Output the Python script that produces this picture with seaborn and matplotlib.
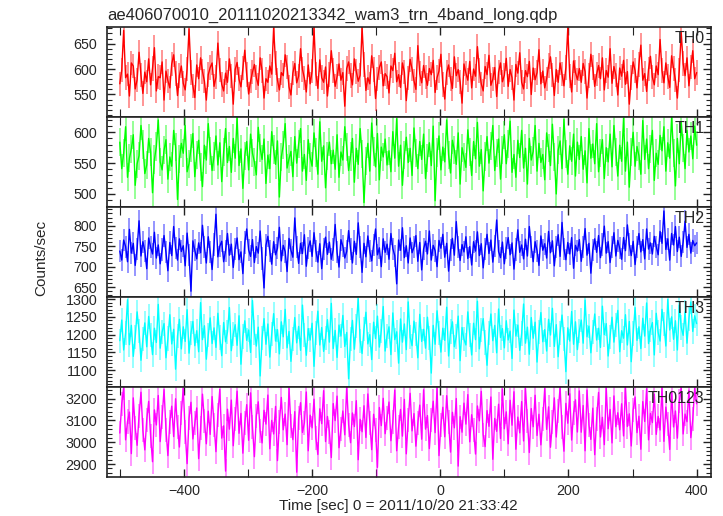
import matplotlib
matplotlib.use('Agg')
import numpy as np
import pandas as pd
import seaborn as sns
import matplotlib.pyplot as plt
from matplotlib.ticker import MultipleLocator

# light curve, 3 s bins, time relative to 2011/10/20 21:33:42
time_sec = np.arange(-500, 401, 3)

th0 = [571, 598, 676, 583, 590, 547, 612, 606, 561, 579, 633, 588, 552, 594, 575, 620, 569, 601, 642, 557,
       585, 583, 614, 539, 596, 577, 563, 610, 628, 591, 548, 587, 606, 572, 559, 600, 679, 593, 567, 544,
       608, 581, 622, 595, 576, 539, 589, 603, 612, 566, 584, 651, 598, 570, 557, 592, 574, 620, 586, 531,
       599, 613, 580, 565, 602, 637, 589, 551, 576, 594, 609, 583, 568, 622, 597, 543, 581, 574, 606, 590,
       681, 612, 578, 559, 593, 587, 628, 604, 565, 549, 592, 611, 573, 586, 640, 599, 582, 555, 608, 571,
       596, 682, 590, 562, 618, 583, 574, 604, 547, 589, 636, 597, 566, 585, 610, 578, 593, 527, 601, 614,
       587, 569, 620, 595, 576, 588, 682, 609, 558, 583, 571, 626, 599, 542, 580, 603, 614, 567, 591, 585,
       553, 606, 597, 631, 575, 589, 564, 612, 594, 538, 582, 619, 600, 577, 560, 646, 591, 573, 607, 584,
       568, 601, 589, 617, 554, 583, 596, 629, 570, 541, 593, 608, 581, 562, 624, 587, 599, 575, 533, 610,
       592, 578, 615, 563, 600, 586, 644, 597, 571, 557, 605, 589, 627, 568, 580, 603, 546, 594, 612, 575,
       588, 621, 566, 599, 583, 539, 609, 592, 632, 574, 561, 597, 585, 615, 550, 602, 579, 593, 638, 571,
       596, 563, 581, 607, 624, 588, 548, 599, 574, 612, 590, 567, 603, 681, 586, 555, 616, 593, 579, 601,
       574, 611, 595, 543, 587, 629, 603, 566, 590, 607, 581, 622, 559, 597, 584, 640, 572, 605, 588, 549,
       602, 586, 617, 570, 595, 531, 583, 614, 597, 563, 609, 647, 578, 591, 556, 600, 625, 584, 569, 606,
       589, 658, 597, 573, 612, 585, 564, 626, 601, 578, 543, 598, 672, 611, 587, 622, 567, 604, 636, 581,
       593]

th1 = [584, 541, 566, 609, 527, 558, 573, 596, 514, 549, 562, 611, 580, 533, 547, 590, 568, 502, 556, 577,
       620, 552, 539, 571, 588, 524, 560, 545, 603, 576, 491, 557, 582, 566, 611, 536, 549, 574, 598, 528,
       563, 587, 544, 512, 579, 555, 614, 570, 538, 561, 594, 547, 583, 520, 568, 606, 551, 577, 535, 590,
       558, 624, 546, 573, 509, 562, 585, 539, 597, 566, 552, 531, 608, 574, 556, 589, 517, 563, 541, 601,
       572, 548, 586, 495, 560, 579, 614, 542, 557, 569, 528, 593, 550, 581, 606, 537, 564, 522, 588, 559,
       545, 599, 567, 532, 617, 553, 578, 510, 562, 584, 549, 571, 540, 596, 527, 568, 555, 609, 576, 538,
       561, 590, 519, 574, 548, 606, 565, 486, 553, 582, 537, 615, 569, 544, 598, 523, 576, 560, 589, 547,
       570, 536, 601, 558, 622, 545, 579, 514, 563, 592, 551, 574, 530, 607, 566, 541, 585, 556, 597, 525,
       558, 583, 546, 610, 489, 567, 594, 539, 576, 552, 620, 563, 534, 587, 571, 548, 599, 516, 575, 560,
       543, 604, 568, 530, 585, 557, 616, 545, 572, 505, 561, 593, 550, 578, 611, 538, 566, 589, 524, 571,
       596, 549, 581, 618, 535, 564, 527, 587, 559, 603, 542, 574, 516, 590, 555, 569, 611, 537, 582, 551,
       564, 523, 599, 575, 546, 613, 560, 500, 571, 586, 541, 621, 565, 532, 578, 553, 597, 529, 584, 556,
       593, 540, 570, 518, 606, 558, 581, 549, 614, 536, 566, 588, 525, 575, 552, 597, 544, 611, 568, 529,
       579, 553, 623, 537, 584, 511, 568, 600, 545, 577, 562, 532, 619, 556, 589, 541, 573, 603, 522, 566,
       548, 595, 570, 609, 537, 583, 558, 625, 566, 513, 590, 549, 617, 575, 541, 603, 568, 594, 557, 610,
       579]

th2 = [738, 716, 765, 749, 712, 791, 733, 757, 703, 744, 812, 726, 761, 739, 695, 770, 748, 731, 784, 721,
       753, 707, 742, 776, 735, 690, 759, 727, 798, 745, 716, 768, 737, 751, 702, 782, 729, 640, 763, 740,
       719, 758, 734, 801, 747, 709, 773, 736, 693, 754, 828, 724, 750, 762, 712, 739, 781, 728, 755, 698,
       744, 770, 717, 736, 683, 759, 792, 741, 725, 766, 710, 749, 733, 787, 720, 648, 752, 774, 738, 706,
       761, 729, 745, 796, 714, 752, 737, 688, 769, 740, 723, 819, 747, 708, 757, 732, 778, 701, 746, 763,
       725, 783, 739, 711, 756, 695, 744, 772, 730, 760, 718, 742, 803, 735, 699, 766, 750, 721, 737, 788,
       743, 709, 762, 730, 807, 748, 686, 757, 724, 775, 738, 714, 753, 792, 729, 746, 700, 768, 735, 755,
       718, 781, 744, 727, 658, 765, 740, 795, 722, 751, 709, 770, 734, 748, 776, 713, 759, 692, 743, 762,
       731, 787, 716, 752, 739, 700, 764, 745, 779, 723, 757, 689, 741, 769, 728, 810, 747, 715, 754, 736,
       773, 720, 749, 704, 761, 738, 785, 727, 756, 697, 744, 779, 732, 765, 711, 750, 814, 737, 722, 760,
       707, 746, 771, 729, 758, 694, 742, 790, 735, 753, 719, 767, 726, 798, 748, 712, 761, 739, 703, 775,
       740, 756, 721, 786, 734, 763, 702, 749, 778, 725, 808, 744, 717, 759, 731, 771, 696, 752, 738, 766,
       713, 749, 793, 728, 757, 684, 741, 768, 735, 776, 722, 754, 799, 733, 761, 710, 747, 783, 726, 764,
       745, 718, 771, 739, 802, 754, 727, 762, 705, 748, 781, 736, 766, 719, 792, 743, 758, 731, 774, 749,
       729, 786, 757, 836, 742, 768, 716, 781, 753, 798, 737, 772, 725, 760, 811, 747, 779, 733, 764, 751,
       758]

th3 = [1183, 1241, 1157, 1205, 1298, 1172, 1226, 1139, 1193, 1264, 1210, 1128, 1187, 1233, 1166, 1251, 1199, 1144, 1218, 1178,
       1285, 1162, 1207, 1231, 1135, 1189, 1256, 1174, 1215, 1103, 1196, 1243, 1160, 1222, 1181, 1270, 1148, 1204, 1237, 1169,
       1211, 1152, 1290, 1186, 1225, 1131, 1198, 1247, 1175, 1219, 1164, 1260, 1192, 1141, 1234, 1180, 1208, 1276, 1155, 1201,
       1228, 1170, 1253, 1117, 1195, 1239, 1184, 1213, 1150, 1296, 1206, 1168, 1221, 1084, 1190, 1245, 1173, 1230, 1137, 1202,
       1259, 1182, 1214, 1146, 1236, 1194, 1271, 1163, 1209, 1125, 1187, 1248, 1177, 1223, 1156, 1283, 1198, 1142, 1217, 1185,
       1232, 1111, 1204, 1266, 1171, 1220, 1153, 1191, 1242, 1179, 1288, 1161, 1212, 1136, 1227, 1196, 1254, 1167, 1206, 1076,
       1188, 1240, 1159, 1225, 1301, 1183, 1147, 1216, 1263, 1174, 1200, 1130, 1235, 1189, 1252, 1165, 1211, 1279, 1154, 1197,
       1222, 1144, 1261, 1186, 1208, 1120, 1244, 1179, 1230, 1158, 1292, 1193, 1169, 1238, 1201, 1135, 1257, 1181, 1215, 1162,
       1249, 1190, 1092, 1226, 1173, 1267, 1205, 1151, 1218, 1184, 1277, 1140, 1209, 1236, 1166, 1195, 1252, 1127, 1220, 1187,
       1171, 1264, 1199, 1143, 1232, 1186, 1294, 1160, 1213, 1245, 1178, 1114, 1204, 1258, 1183, 1226, 1149, 1272, 1192, 1217,
       1163, 1239, 1185, 1210, 1133, 1269, 1196, 1227, 1156, 1203, 1286, 1176, 1221, 1145, 1248, 1190, 1235, 1123, 1207, 1262,
       1180, 1214, 1154, 1243, 1199, 1274, 1167, 1228, 1138, 1205, 1255, 1188, 1096, 1219, 1182, 1265, 1173, 1236, 1158, 1210,
       1241, 1176, 1297, 1194, 1224, 1149, 1207, 1258, 1185, 1218, 1164, 1280, 1200, 1231, 1140, 1193, 1249, 1179, 1227, 1268,
       1152, 1211, 1190, 1256, 1171, 1237, 1124, 1203, 1276, 1184, 1222, 1161, 1246, 1196, 1289, 1175, 1214, 1234, 1143, 1260,
       1206, 1182, 1271, 1229, 1168, 1299, 1213, 1250, 1187, 1239, 1157, 1283, 1220, 1198, 1264, 1176, 1245, 1292, 1209, 1253,
       1231]

th0123 = [3042, 3176, 3250, 3011, 3095, 3138, 2948, 3203, 3067, 2986, 3121, 3229, 3054, 2965, 3102, 3187, 3030, 2911, 3148, 3079,
          3214, 3003, 3116, 3241, 3058, 2939, 3092, 3165, 3026, 3199, 3071, 2978, 3135, 3247, 3047, 2902, 3110, 3183, 3015, 3088,
          3157, 2925, 3064, 3220, 3097, 2993, 3142, 3036, 3209, 3081, 2957, 3126, 3242, 3019, 3075, 2868, 3151, 3060, 3193, 2984,
          3107, 3234, 3041, 3132, 2950, 3086, 3172, 3009, 3226, 3068, 2934, 3119, 3185, 3051, 2997, 3146, 3083, 3216, 2970, 3100,
          3038, 3164, 2916, 3093, 3205, 3057, 3129, 2989, 3248, 3074, 3012, 3140, 2863, 3112, 3181, 3045, 3089, 3230, 2961, 3124,
          3066, 3197, 3020, 2944, 3153, 3085, 3236, 3003, 3118, 3049, 2930, 3177, 3099, 3211, 2975, 3061, 3143, 3034, 3253, 3080,
          2998, 3134, 3072, 3190, 2920, 3105, 3048, 3167, 3022, 3221, 3090, 2966, 3128, 3057, 2885, 3159, 3076, 3201, 3039, 3113,
          3184, 3007, 3094, 3239, 2961, 3069, 3150, 3028, 3196, 2947, 3103, 3224, 3052, 3131, 2982, 3087, 3170, 3014, 3240, 3060,
          3122, 2971, 3101, 3188, 3044, 3252, 2939, 3077, 3160, 3025, 3213, 3091, 2955, 3137, 3066, 3200, 2891, 3117, 3046, 3179,
          3083, 3218, 3002, 3126, 3055, 2946, 3166, 3098, 3233, 3035, 2980, 3145, 3073, 3207, 2922, 3109, 3050, 3174, 3017, 3244,
          3062, 3139, 2993, 3192, 3078, 3231, 2968, 3115, 3043, 3186, 3006, 3246, 3097, 2953, 3154, 3071, 3215, 3031, 3128, 2988,
          3106, 3246, 3059, 3162, 2977, 3092, 3203, 3024, 3141, 3251, 3068, 2959, 3178, 3087, 3222, 3010, 3133, 3194, 3047, 3235,
          3046, 3168, 2961, 3239, 3080, 3013, 3156, 2943, 3107, 3228, 3024, 3114, 2989, 3249, 3062, 3150, 2997, 3212, 3071, 3135,
          3057, 3176, 3029, 3252, 3072, 3130, 2983, 3147, 3207, 3044, 3119, 2968, 3186, 3095, 3245, 3011, 3132, 3090, 3220, 3036,
          3118, 3056, 3251, 3004, 3161, 3083, 2967, 3232, 3070, 3143, 3019, 3187, 3250, 3038, 3129, 3094, 3238, 3021, 3105, 3248,
          3176]

band_names = ["TH0", "TH1", "TH2", "TH3", "TH0123"]
band_rates = [th0, th1, th2, th3, th0123]
band_errors = [24, 23, 27, 34, 55]   # 1 sigma, counts/sec
band_colors = ["#ff0000", "#00ff00", "#0000ff", "#00ffff", "#ff00ff"]
band_ylims = [(506, 683), (479, 625), (626, 846), (1053, 1306), (2841, 3253)]
band_major = [50, 50, 50, 50, 100]
band_minor = [10, 10, 10, 10, 20]

sns.set_style("ticks")
plt.rcParams['font.family'] = ['Liberation Sans', 'DejaVu Sans']
plt.rcParams['axes.linewidth'] = 1.2

fig, axes = plt.subplots(5, 1, sharex=True, figsize=(7.23, 5.16), dpi=100,
                         gridspec_kw=dict(hspace=0))
fig.subplots_adjust(left=0.148, right=0.983, top=0.948, bottom=0.0756)

for i, ax in enumerate(axes):
    rate = np.array(band_rates[i], dtype=float)
    n = min(len(rate), len(time_sec))
    df = pd.DataFrame({"time": time_sec[:n], "rate": rate[:n]})
    err = band_errors[i]
    col = band_colors[i]
    ax.vlines(df["time"], df["rate"] - err, df["rate"] + err,
              color=col, alpha=0.45, lw=1.3)
    sns.lineplot(data=df, x="time", y="rate", ax=ax, color=col, lw=1.0,
                 estimator=None, sort=False)
    ax.set_ylim(*band_ylims[i])
    ax.set_xlim(-520, 422)
    ax.set_xlabel("")
    ax.set_ylabel("")
    ax.yaxis.set_major_locator(MultipleLocator(band_major[i]))
    ax.yaxis.set_minor_locator(MultipleLocator(band_minor[i]))
    ax.xaxis.set_major_locator(MultipleLocator(200))
    ax.xaxis.set_minor_locator(MultipleLocator(100))
    ax.tick_params(which='both', direction='in', top=True, right=True,
                   color='#222222', labelsize=10.3, pad=7)
    ax.tick_params(which='major', length=6, width=1)
    ax.tick_params(which='minor', length=3.5, width=0.8)
    ax.tick_params(axis='x', which='minor', length=6)
    for sp in ax.spines.values():
        sp.set_color('#222222')
    ax.text(0.99, 0.955, band_names[i], transform=ax.transAxes,
            ha='right', va='top', fontsize=11.5)

axes[-1].tick_params(axis='x', pad=5)

fig.text(107 / 723, 1 - 15 / 516, "ae406070010_20111020213342_wam3_trn_4band_long.qdp",
         ha='left', va='center', fontsize=12)
fig.text(41 / 723, 1 - 258 / 516, "Counts/sec", rotation=90,
         ha='center', va='center', fontsize=11)
fig.text(398 / 723, 1 - 506 / 516, "Time [sec] 0 = 2011/10/20 21:33:42",
         ha='center', va='center', fontsize=11)

fig.savefig("out.png", dpi=100)
